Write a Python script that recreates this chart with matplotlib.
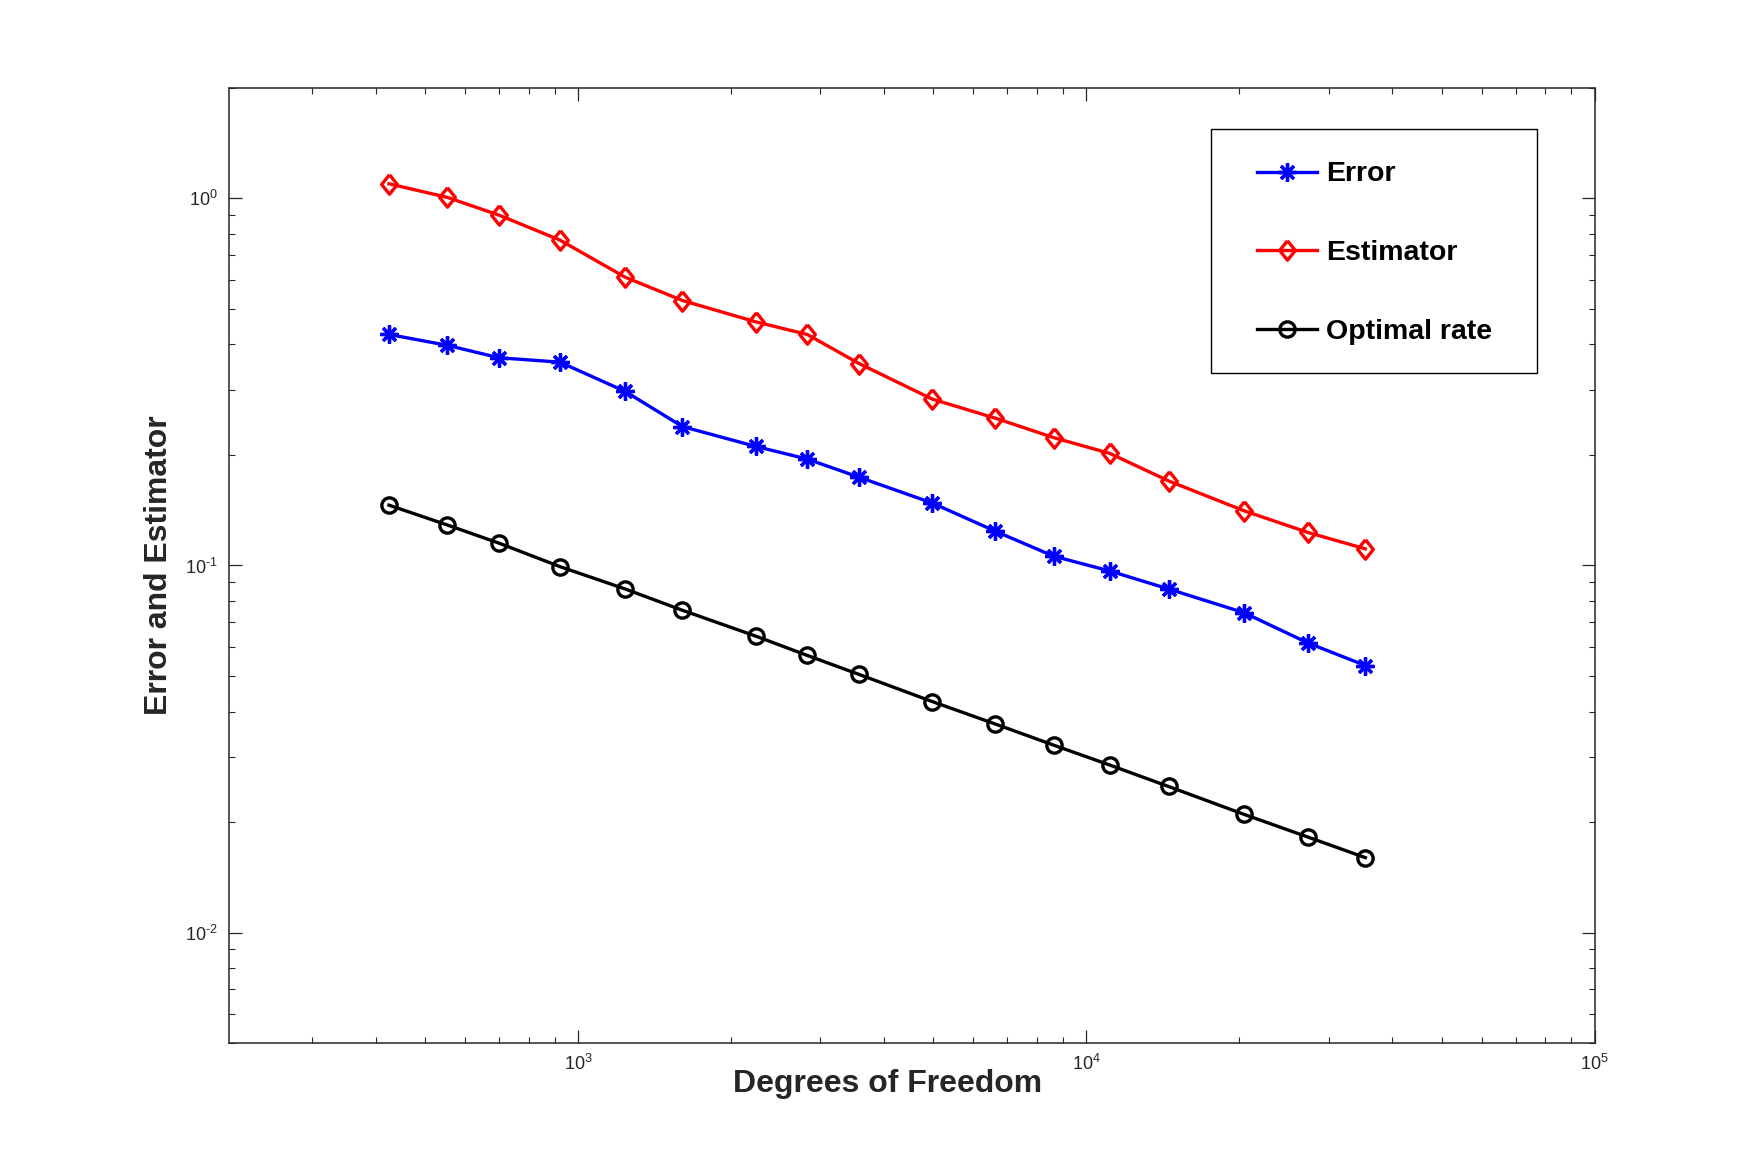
import numpy as np
import matplotlib
matplotlib.use('Agg')
import matplotlib.pyplot as plt
from matplotlib.patches import Rectangle
from matplotlib.ticker import FuncFormatter, LogLocator

plt.rcParams['font.family'] = ['Liberation Sans', 'DejaVu Sans']
plt.rcParams['mathtext.fontset'] = 'custom'
plt.rcParams['mathtext.rm'] = 'Liberation Sans'
plt.rcParams['mathtext.it'] = 'Liberation Sans'
plt.rcParams['mathtext.default'] = 'regular'
plt.rcParams['axes.unicode_minus'] = False

# degrees of freedom per refinement step
dofs = [425, 553, 700, 922, 1239, 1606, 2239, 2825, 3573, 4977,
        6623, 8630, 11128, 14517, 20420, 27310, 35400]
error = [0.426, 0.398, 0.368, 0.358, 0.298, 0.239, 0.211, 0.195, 0.174,
         0.148, 0.124, 0.106, 0.0966, 0.0863, 0.0744, 0.0615, 0.0534]
estimator = [1.096, 1.007, 0.90, 0.77, 0.61, 0.527, 0.461, 0.426, 0.355,
             0.284, 0.252, 0.223, 0.202, 0.170, 0.141, 0.123, 0.111]
optimal = [0.146, 0.129, 0.115, 0.0993, 0.0863, 0.0755, 0.0642, 0.0569,
           0.0505, 0.0426, 0.0370, 0.0324, 0.0286, 0.0250, 0.0210, 0.0182,
           0.0160]

gray = '#262626'
diamond = [(0, 1), (0.81, 0), (0, -1), (-0.81, 0), (0, 1)]


def pow10(v, pos):
    e = int(round(np.log10(v)))
    return r'$10^{\text{%d}}$' % e


fig = plt.figure(figsize=(17.62, 11.72), dpi=100)
ax = fig.add_axes([0.13, 0.11, 0.775, 0.815])

ax.loglog(dofs, error, color='b', lw=2.4, marker=(8, 2, 0), ms=13,
          mew=2.4, label='Error')
ax.loglog(dofs, estimator, color='r', lw=2.4, marker=diamond, ms=14,
          mfc='none', mew=2.4, label='Estimator')
ax.loglog(dofs, optimal, color='k', lw=2.4, marker='o', ms=11,
          mfc='none', mew=2.4, label='Optimal rate')

ax.set_xlim(206, 1e5)
ax.set_ylim(0.005, 2)
ax.xaxis.set_major_locator(LogLocator(base=10))
ax.yaxis.set_major_locator(LogLocator(base=10))
ax.xaxis.set_major_formatter(FuncFormatter(pow10))
ax.yaxis.set_major_formatter(FuncFormatter(pow10))

for s in ax.spines.values():
    s.set_linewidth(1.1)
    s.set_color(gray)

ax.tick_params(which='both', direction='in', top=True, right=True,
               colors=gray, labelsize=13)
ax.tick_params(which='major', length=9.5, width=0.9, pad=8)
ax.tick_params(which='minor', length=4.5, width=0.8)

ax.set_xlabel('Degrees of Freedom', fontsize=23, fontweight='bold', color=gray)
ax.set_ylabel('Error and Estimator', fontsize=23, fontweight='bold', color=gray)
ax.xaxis.set_label_coords(0.482, -0.027)
ax.yaxis.set_label_coords(-0.04, 0.5)

# legend entries without frame, box drawn separately
leg = ax.legend(loc='center left', bbox_to_anchor=(0.753, 0.827),
                prop={'weight': 'bold', 'size': 20.5},
                frameon=False, borderpad=0, labelspacing=1.85,
                handlelength=2.1, handletextpad=0.3, borderaxespad=0)
ax.add_patch(Rectangle((0.719, 0.701), 0.2385, 0.256, transform=ax.transAxes,
                       fill=False, edgecolor='k', lw=1.0, zorder=5))

fig.savefig('out.png', dpi=100)
